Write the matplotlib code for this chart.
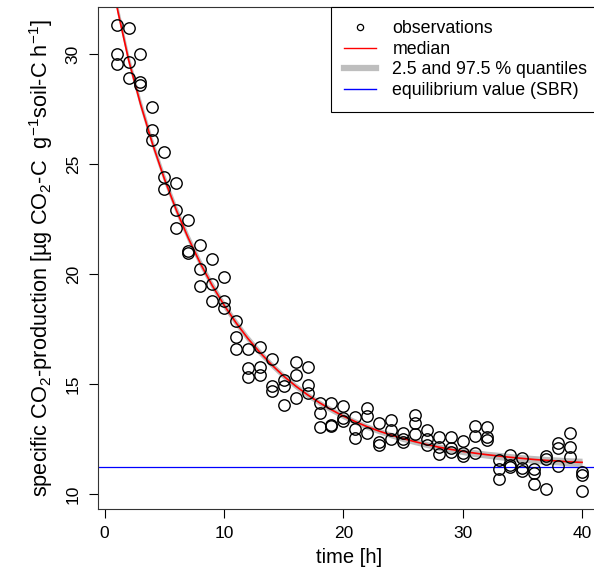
import numpy as np
import matplotlib
matplotlib.use("Agg")
import matplotlib.pyplot as plt
from matplotlib.lines import Line2D

plt.rcParams["font.family"] = ["Liberation Sans", "DejaVu Sans"]
plt.rcParams["mathtext.default"] = "regular"

# ── data ──────────────────────────────────────────────────────────────────────
obs_t = np.repeat(np.arange(1, 41), 3)
obs_y = [
    31.32, 29.99, 29.55,   31.17, 29.65, 28.92,   30.00, 28.74, 28.58,
    27.58, 26.55, 26.09,   25.56, 24.39, 23.85,   24.15, 22.91, 22.09,
    22.47, 21.06, 20.94,   21.32, 20.21, 19.45,   20.67, 19.55, 18.79,
    19.85, 18.79, 18.44,   17.88, 17.12, 16.59,   16.58, 15.71, 15.33,
    16.68, 15.79, 15.41,   16.12, 14.91, 14.70,   15.18, 14.92, 14.05,
    16.00, 15.41, 14.38,   15.77, 14.97, 14.58,   14.15, 13.70, 13.06,
    14.12, 13.14, 13.10,   14.00, 13.47, 13.33,   13.50, 12.96, 12.56,
    13.92, 13.54, 12.78,   13.23, 12.38, 12.22,   13.37, 12.91, 12.50,
    12.78, 12.50, 12.38,   13.59, 13.21, 12.71,   12.91, 12.49, 12.23,
    12.60, 12.15, 11.82,   12.58, 12.08, 11.92,   12.42, 11.85, 11.73,
    13.09, 12.64, 11.88,   13.06, 12.58, 12.45,   11.55, 11.12, 10.67,
    11.77, 11.32, 11.25,   11.62, 11.17, 11.06,   11.12, 10.97, 10.45,
    11.73, 11.58, 10.21,   12.30, 12.08, 11.27,   12.76, 12.12, 11.67,
    11.01, 10.86, 10.14,
]

fit_t = np.arange(1, 41)
median = [
    32.20, 29.74, 27.73, 25.93, 24.33, 22.91, 21.64, 20.50, 19.49, 18.59,
    17.79, 17.07, 16.44, 15.87, 15.36, 14.91, 14.51, 14.15, 13.83, 13.54,
    13.29, 13.06, 12.86, 12.68, 12.52, 12.38, 12.25, 12.13, 12.03, 11.94,
    11.86, 11.79, 11.73, 11.67, 11.62, 11.57, 11.53, 11.50, 11.46, 11.44,
]
q_lo = [
    31.92, 29.47, 27.47, 25.68, 24.09, 22.68, 21.42, 20.29, 19.29, 18.40,
    17.61, 16.90, 16.28, 15.72, 15.21, 14.77, 14.37, 14.02, 13.70, 13.41,
    13.16, 12.93, 12.73, 12.55, 12.38, 12.24, 12.11, 11.98, 11.88, 11.79,
    11.70, 11.63, 11.56, 11.50, 11.45, 11.39, 11.35, 11.32, 11.27, 11.25,
]
q_hi = [
    32.48, 30.01, 27.99, 26.18, 24.57, 23.14, 21.86, 20.71, 19.69, 18.78,
    17.97, 17.24, 16.60, 16.02, 15.51, 15.05, 14.65, 14.28, 13.96, 13.67,
    13.42, 13.19, 12.99, 12.81, 12.66, 12.52, 12.39, 12.28, 12.18, 12.09,
    12.02, 11.95, 11.90, 11.84, 11.79, 11.75, 11.71, 11.68, 11.65, 11.63,
]
sbr = 11.21

# ── figure ───────────────────────────────────────────────────────────────────
fig = plt.figure(figsize=(5.94, 5.88), dpi=100)
ax = fig.add_axes([98 / 594, 1 - 509 / 588, 502.7 / 594, 502 / 588])

ax.fill_between(fit_t, q_lo, q_hi, color="#BEBEBE", lw=0, zorder=1)
ax.plot(fit_t, median, color="#FF0000", lw=1.2, zorder=2)
ax.axhline(sbr, color="#0000FF", lw=0.9, zorder=2)
ax.plot(obs_t, obs_y, "o", ms=8.2, mfc="none", mec="black", mew=1.0, zorder=3)

ax.set_xlim(-0.56, 41.56)
ax.set_ylim(9.32, 32.14)
ax.set_xticks([0, 10, 20, 30, 40])
ax.set_yticks([10, 15, 20, 25, 30])
ax.tick_params(direction="out", length=6.5, width=0.8, labelsize=12.5, pad=6)
plt.setp(ax.get_yticklabels(), rotation=90, va="center")
for s in ax.spines.values():
    s.set_linewidth(0.8)
    s.set_color("#333333")

ax.set_xlabel("time [h]", fontsize=14.5, labelpad=5)
ax.set_ylabel(r"specific CO$_2$-production [µg CO$_2$-C  g$^{-1}$soil-C h$^{-1}$]",
              fontsize=15.7, labelpad=8)

handles = [
    Line2D([], [], ls="none", marker="o", ms=4.5, mfc="none", mec="black", mew=0.9),
    Line2D([], [], color="#FF0000", lw=1.0),
    Line2D([], [], color="#BEBEBE", lw=4.5),
    Line2D([], [], color="#0000FF", lw=1.0),
]
labels = ["observations", "median", "2.5 and 97.5 % quantiles",
          "equilibrium value (SBR)"]
leg = ax.legend(handles, labels, loc="upper right", bbox_to_anchor=(1, 1),
                borderaxespad=0, fancybox=False, fontsize=12.8, framealpha=1,
                edgecolor="black", handlelength=1.8, handletextpad=0.9,
                labelspacing=0.2, borderpad=0.75)
leg.get_frame().set_linewidth(0.8)

fig.savefig("out.png", dpi=100)
